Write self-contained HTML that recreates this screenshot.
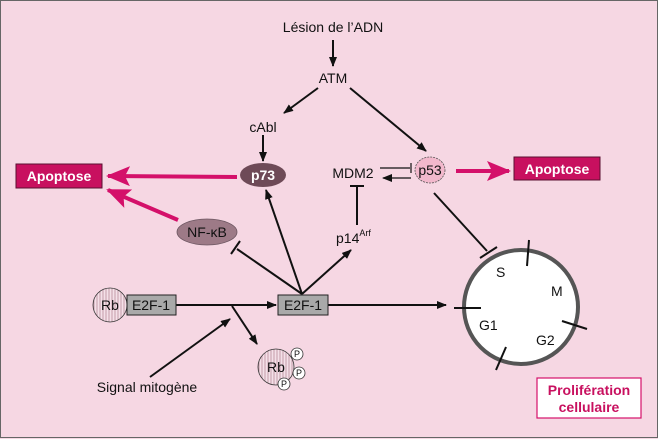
<!DOCTYPE html>
<html><head><meta charset="utf-8"><style>
html,body{margin:0;padding:0;background:#f6d7e3}
svg{display:block;font-family:"Liberation Sans",sans-serif}
</style></head><body>
<svg width="658" height="439" viewBox="0 0 658 439" xmlns="http://www.w3.org/2000/svg">
<defs>
<marker id="a" markerWidth="10" markerHeight="8" refX="9" refY="4" orient="auto" markerUnits="userSpaceOnUse"><path d="M0,0 L10,4 L0,8 z" fill="#111"/></marker>
<marker id="m" markerWidth="24" markerHeight="20" refX="22" refY="10" orient="auto" markerUnits="userSpaceOnUse"><path d="M0,0 L24,10 L0,20 L5,10 z" fill="#d4106a"/></marker>
<pattern id="st" width="3" height="3" patternUnits="userSpaceOnUse"><rect width="3" height="3" fill="#f4e0e8"/><line x1="1" y1="0" x2="1" y2="3" stroke="#b88a9a" stroke-width="0.8"/></pattern>
</defs>
<rect x="0.5" y="0.5" width="657" height="437" fill="#f6d7e3" stroke="#666" stroke-width="1"/>
<g stroke="#111" stroke-width="2" fill="none">
<line x1="333" y1="40" x2="333" y2="66" marker-end="url(#a)"/>
<line x1="318" y1="88" x2="284" y2="113" marker-end="url(#a)"/>
<line x1="263" y1="135" x2="263" y2="161" marker-end="url(#a)"/>
<line x1="350" y1="88" x2="426" y2="151" marker-end="url(#a)"/>
<line x1="302" y1="294" x2="237" y2="249"/><line x1="231" y1="254" x2="240" y2="241"/>
<line x1="302" y1="294" x2="266" y2="190" marker-end="url(#a)"/>
<line x1="302" y1="294" x2="351" y2="250" marker-end="url(#a)"/>
<line x1="357" y1="225" x2="357" y2="186"/><line x1="350" y1="186" x2="364" y2="186"/>
<line x1="434" y1="193" x2="487" y2="251"/><line x1="480" y1="258" x2="497" y2="247"/>
<line x1="328" y1="305" x2="446" y2="305" marker-end="url(#a)"/>
<line x1="176" y1="305" x2="276" y2="305" marker-end="url(#a)"/>
<line x1="232" y1="306" x2="257" y2="344" marker-end="url(#a)"/>
<line x1="150" y1="377" x2="230" y2="319" marker-end="url(#a)"/>
</g>
<g stroke="#111" stroke-width="1.2" fill="none">
<line x1="380" y1="168" x2="410" y2="168"/><line x1="411" y1="163" x2="411" y2="173"/>
<line x1="411" y1="178" x2="383" y2="178" marker-end="url(#a)"/>
</g>
<g stroke="#d4106a" stroke-width="4" fill="none">
<line x1="237" y1="177" x2="108" y2="176" marker-end="url(#m)"/>
<line x1="178" y1="220" x2="108" y2="190" marker-end="url(#m)"/>
<line x1="456" y1="171" x2="509" y2="171" marker-end="url(#m)"/>
</g>
<text x="333" y="32" font-size="14" text-anchor="middle" fill="#111">Lésion de l’ADN</text>
<text x="333" y="83" font-size="14" text-anchor="middle" fill="#111">ATM</text>
<text x="263" y="132" font-size="14" text-anchor="middle" fill="#111">cAbl</text>
<text x="353" y="178" font-size="14" text-anchor="middle" fill="#111">MDM2</text>
<text x="336" y="243" font-size="14" fill="#111">p14<tspan font-size="9" dy="-7">Arf</tspan></text>
<ellipse cx="263" cy="175" rx="23" ry="12" fill="#6e4a57"/>
<text x="263" y="180" font-size="14" font-weight="bold" text-anchor="middle" fill="#fff">p73</text>
<ellipse cx="430" cy="170" rx="15" ry="13" fill="#f2b8cc" stroke="#555" stroke-width="0.8" stroke-dasharray="2,1"/>
<text x="430" y="175" font-size="14" text-anchor="middle" fill="#111">p53</text>
<ellipse cx="207" cy="232" rx="30" ry="13" fill="#9d7a87" stroke="#6b5560" stroke-width="0.8"/>
<text x="207" y="237" font-size="14" text-anchor="middle" fill="#111">NF-κB</text>
<rect x="16" y="164" width="86" height="24" fill="#c8105f" stroke="#5a1030" stroke-width="1"/>
<text x="59" y="181" font-size="14" font-weight="bold" text-anchor="middle" fill="#fff">Apoptose</text>
<rect x="514" y="157" width="86" height="23" fill="#c8105f" stroke="#5a1030" stroke-width="1"/>
<text x="557" y="174" font-size="14" font-weight="bold" text-anchor="middle" fill="#fff">Apoptose</text>
<circle cx="110" cy="305" r="17" fill="url(#st)" stroke="#333" stroke-width="0.8"/>
<text x="110" y="310" font-size="14" text-anchor="middle" fill="#111">Rb</text>
<rect x="127" y="295" width="49" height="20" fill="#a9a9a9" stroke="#222" stroke-width="1"/>
<text x="151" y="310" font-size="14" text-anchor="middle" fill="#111">E2F-1</text>
<rect x="278" y="295" width="50" height="20" fill="#a9a9a9" stroke="#222" stroke-width="1"/>
<text x="303" y="310" font-size="14" text-anchor="middle" fill="#111">E2F-1</text>
<circle cx="276" cy="367" r="18" fill="url(#st)" stroke="#333" stroke-width="0.8"/>
<text x="276" y="372" font-size="14" text-anchor="middle" fill="#111">Rb</text>
<g fill="#fff" stroke="#333" stroke-width="0.8"><circle cx="297" cy="354" r="6"/><circle cx="299" cy="373" r="6"/><circle cx="284" cy="384" r="6"/></g>
<g font-size="9" text-anchor="middle" fill="#111"><text x="297" y="357">P</text><text x="299" y="376">P</text><text x="284" y="387">P</text></g>
<text x="147" y="392" font-size="14" text-anchor="middle" fill="#111">Signal mitogène</text>
<circle cx="521" cy="307" r="57" fill="#fff" stroke="#555" stroke-width="4"/>
<g stroke="#111" stroke-width="2">
<line x1="529" y1="240" x2="527" y2="266"/><line x1="454" y1="308" x2="481" y2="308"/>
<line x1="562" y1="321" x2="587" y2="329"/><line x1="506" y1="347" x2="496" y2="370"/>
</g>
<g font-size="14" fill="#111"><text x="496" y="277">S</text><text x="551" y="296">M</text><text x="479" y="330">G1</text><text x="536" y="345">G2</text></g>
<rect x="537" y="378" width="104" height="40" fill="#fff" stroke="#d4106a" stroke-width="1.2"/>
<text x="589" y="395" font-size="14" font-weight="bold" text-anchor="middle" fill="#c8105f">Prolifération</text>
<text x="589" y="412" font-size="14" font-weight="bold" text-anchor="middle" fill="#c8105f">cellulaire</text>
</svg>
</body></html>
